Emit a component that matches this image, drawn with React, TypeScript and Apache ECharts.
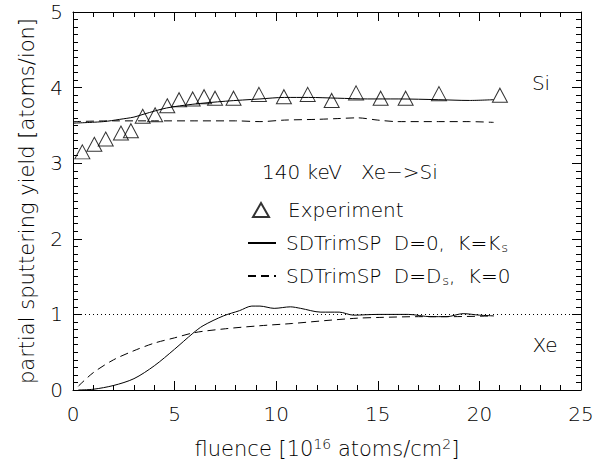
import React, { useEffect, useRef } from 'react';
import * as echarts from 'echarts';

const FONT = '"DejaVu Sans", "Liberation Sans", sans-serif';

// Experiment (triangles), Si
const expFluence = [0.46, 1.05, 1.61, 2.36, 2.85, 3.43, 4.04, 4.64, 5.22, 5.89, 6.45, 6.99, 7.9, 9.15, 10.38, 11.55, 12.73, 13.93, 15.14, 16.37, 18.01, 21.01];
const expYield = [3.15, 3.25, 3.32, 3.40, 3.43, 3.62, 3.64, 3.76, 3.84, 3.85, 3.88, 3.86, 3.86, 3.91, 3.88, 3.91, 3.83, 3.93, 3.86, 3.86, 3.92, 3.90];

// SDTrimSP D=0, K=Ks (solid)
const siSolidX = [0, 1.5, 2.3, 3.0, 3.5, 4.6, 5.9, 7.5, 9.2, 10.4, 11.6, 13.0, 14.5, 16.0, 18.0, 19.5, 20.7];
const siSolidY = [3.53, 3.55, 3.58, 3.61, 3.65, 3.73, 3.78, 3.82, 3.85, 3.87, 3.87, 3.86, 3.85, 3.85, 3.84, 3.83, 3.84];
const xeSolidX = [0.26, 1.0, 2.0, 3.0, 4.0, 5.0, 5.9, 6.4, 7.4, 8.2, 8.8, 9.2, 9.9, 10.7, 11.2, 12.2, 13.1, 13.8, 15.0, 16.5, 17.6, 18.4, 19.2, 20.0, 20.7];
const xeSolidY = [0.0, 0.01, 0.06, 0.15, 0.32, 0.54, 0.75, 0.85, 0.98, 1.05, 1.11, 1.11, 1.08, 1.10, 1.08, 1.03, 1.03, 0.99, 1.0, 1.0, 0.97, 0.97, 1.01, 0.99, 0.98];

// SDTrimSP D=Ds, K=0 (dashed)
const siDashX = [0, 2, 4, 6, 8, 9.2, 10.4, 12.0, 13.0, 14.0, 15.0, 16.0, 18.0, 19.5, 20.7];
const siDashY = [3.55, 3.56, 3.56, 3.56, 3.56, 3.55, 3.57, 3.58, 3.59, 3.60, 3.57, 3.55, 3.55, 3.55, 3.54];
const xeDashX = [0.26, 1.0, 2.0, 3.0, 4.0, 5.0, 6.0, 7.5, 9.2, 10.8, 12.5, 14.0, 15.1, 17.0, 18.5, 20.7];
const xeDashY = [0.05, 0.23, 0.40, 0.52, 0.62, 0.69, 0.76, 0.81, 0.85, 0.88, 0.92, 0.95, 0.96, 0.97, 0.97, 0.98];

const xMin = 0, xMax = 25, xStep = 5;
const yMin = 0, yMax = 5, yStep = 1;

const NAME_EXP = 'Experiment';
const NAME_SOLID = 'SDTrimSP D=0, K=Ks';
const NAME_DASH = 'SDTrimSP D=Ds, K=0';

const zip = (a: number[], b: number[]) => a.map((v, i) => [v, b[i]]);
const joined = (x1: number[], y1: number[], x2: number[], y2: number[]) =>
  [...zip(x1, y1), ['-', '-'], ...zip(x2, y2)];

function makeOption() {
  const txt = () => ({ fontFamily: FONT, fontSize: 20, fontWeight: 200, color: '#000' });
  const ax = (extra: any) => ({
    type: 'value',
    splitLine: { show: false },
    axisLine: { show: true, onZero: false, lineStyle: { color: '#000', width: 1 } },
    axisTick: { show: true, inside: true, length: 9, lineStyle: { color: '#000', width: 1 } },
    ...extra,
  });
  const leg = (name: string, top: number, isSymbol: boolean) => {
    const l: any = {
      data: [name],
      orient: 'vertical',
      left: isSymbol ? 252 : 247,
      top,
      padding: 0,
      itemWidth: isSymbol ? 16 : 28,
      itemHeight: 14,
      selectedMode: false,
      formatter: (n: string) =>
        n === NAME_SOLID
          ? 'SDTrimSP {w|D=0,} {w|K=K}{sub|s}'
          : n === NAME_DASH
          ? 'SDTrimSP {w|D=D}{sub|s}, {w|K=0}'
          : n,
      textStyle: {
        ...txt(),
        padding: [0, 0, 0, isSymbol ? 14 : 5],
        rich: {
          w: { ...txt(), padding: [0, 0, 0, 6] },
          sub: { fontFamily: FONT, fontSize: 13, fontWeight: 200, color: '#000', padding: [9, 0, 0, 1] },
        },
      },
    };
    if (!isSymbol) l.itemStyle = { color: 'rgba(0,0,0,0)', borderWidth: 0, opacity: 0 };
    return l;
  };
  return {
    animation: false,
    grid: { left: 73, right: 16, top: 12, bottom: 70 },
    xAxis: [
      ax({
        min: xMin, max: xMax, interval: xStep, position: 'bottom',
        minorTick: { show: true, splitNumber: 5, length: 5, lineStyle: { color: '#000', width: 1 } },
        axisLabel: { ...txt(), margin: 14 },
        name: 'fluence [10{sup|16} atoms/cm{sup|2}]',
        nameLocation: 'middle',
        nameGap: 47,
        nameTextStyle: { ...txt(), fontSize: 21, rich: { sup: { fontFamily: FONT, fontSize: 14, fontWeight: 200, color: '#000', padding: [0, 0, 9, 0] } } },
      }),
      ax({ min: xMin, max: xMax, interval: xStep, position: 'top', minorTick: { show: true, splitNumber: 5, length: 5, lineStyle: { color: '#000', width: 1 } }, axisLabel: { show: false } }),
    ],
    yAxis: [
      ax({
        min: yMin, max: yMax, interval: yStep, position: 'left',
        minorTick: { show: true, splitNumber: 10, length: 5, lineStyle: { color: '#000', width: 1 } },
        axisLabel: { ...txt(), margin: 10 },
        name: 'partial sputtering yield [atoms/ion]',
        nameLocation: 'middle',
        nameGap: 36,
        nameRotate: 90,
        nameTextStyle: { ...txt(), fontSize: 21 },
      }),
      ax({ min: yMin, max: yMax, interval: yStep, position: 'right', minorTick: { show: true, splitNumber: 10, length: 5, lineStyle: { color: '#000', width: 1 } }, axisLabel: { show: false } }),
    ],
    legend: [
      leg(NAME_EXP, 200, true),
      leg(NAME_SOLID, 233, false),
      leg(NAME_DASH, 266, false),
    ],
    graphic: [
      { type: 'text', left: 262, top: 162, style: { text: '140 keV   Xe\u2212>Si', font: `200 20px ${FONT}`, fill: '#000' } },
      { type: 'text', x: 541, y: 83, style: { text: 'Si', font: `200 20px ${FONT}`, fill: '#000', align: 'center', verticalAlign: 'middle' } },
      { type: 'text', x: 545, y: 345, style: { text: 'Xe', font: `200 20px ${FONT}`, fill: '#000', align: 'center', verticalAlign: 'middle' } },
    ],
    series: [
      {
        name: NAME_EXP, type: 'scatter', data: zip(expFluence, expYield),
        symbol: 'triangle', symbolSize: [15, 14],
        itemStyle: { color: 'rgba(0,0,0,0)', borderColor: '#000', borderWidth: 1 },
        z: 5,
      },
      {
        name: NAME_SOLID, type: 'line', data: joined(siSolidX, siSolidY, xeSolidX, xeSolidY),
        showSymbol: false, symbol: 'none', smooth: 0.3, connectNulls: false,
        lineStyle: { color: '#000', width: 1 },
        markLine: {
          silent: true, symbol: 'none', label: { show: false },
          lineStyle: { color: '#000', width: 1, type: [1, 3] },
          data: [{ yAxis: 1 }],
        },
      },
      {
        name: NAME_DASH, type: 'line', data: joined(siDashX, siDashY, xeDashX, xeDashY),
        showSymbol: false, symbol: 'none', smooth: 0.3, connectNulls: false,
        lineStyle: { color: '#000', width: 1, type: [8, 5] },
      },
    ],
  };
}

export default function App() {
  const ref = useRef<HTMLDivElement>(null);
  useEffect(() => {
    const chart = echarts.init(ref.current!, null, { renderer: 'svg' });
    chart.setOption(makeOption() as any);
    return () => chart.dispose();
  }, []);
  return (
    <div style={{ position: 'fixed', left: 0, top: 0, width: 597, height: 464, background: '#fff' }}>
      <div ref={ref} style={{ width: 597, height: 464 }} />
    </div>
  );
}
